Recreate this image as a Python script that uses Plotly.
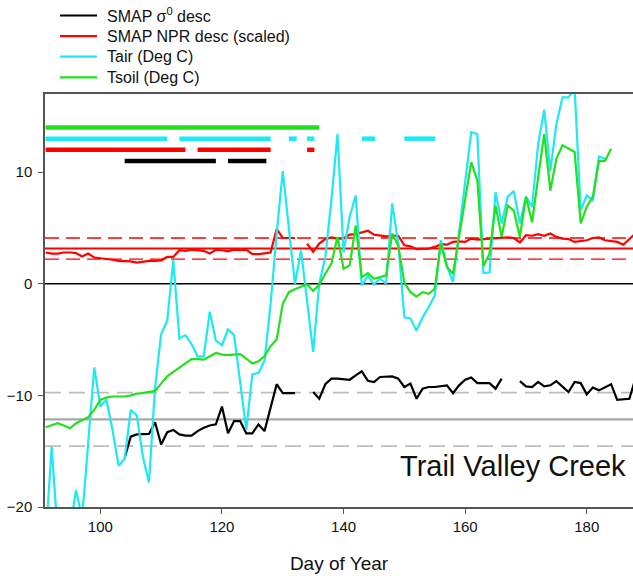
import plotly.graph_objects as go

# Day of year axis (daily samples)
DAYS = list(range(91, 189))

# SMAP sigma0 (descending passes)
SIGMA0_DESC = [
    None, None, None, None, None, None, None, None, None, None,
    None, None, None, -15.6, -13.7, -13.5, -13.5, -13.45, -12.4, -14.4,
    -13.3, -13.1, -13.5, -13.6, -13.6, -13.2, -12.9, -12.7, -12.6, -11.0,
    -13.4, -12.3, -12.3, -13.4, -13.4, -12.6, -13.2, -11.2, -9.0, -9.8,
    -9.8, -9.8, None, None, -9.7, -10.3, -9.0, -8.5, -8.5, -8.55,
    -8.6, -8.2, -7.85, -8.7, -8.8, -8.35, -8.33, -8.3, -8.5, -9.25,
    -8.95, -10.3, -9.4, -9.25, -9.25, -9.15, -9.1, -9.8, -9.1, -8.6,
    -8.4, -8.9, -8.9, -8.9, -9.4, -8.5, None, None, -8.72, -9.2,
    -9.25, -8.8, -9.2, -9.1, -8.72, -9.2, -9.7, -8.8, -8.9, -9.9,
    -9.3, -9.55, -9.3, -9.0, -10.4, -10.35, -10.3, -8.5,
]

# SMAP NPR (descending, scaled)
NPR_DESC = [
    2.8, 2.7, 2.7, 2.8, 2.8, 2.75, 2.45, 2.7, 2.35, 2.3,
    2.25, 2.15, 2.05, 2.05, 2.0, 1.9, 2.0, 2.05, 2.05, 2.1,
    2.4, 2.4, 3.0, 2.95, 3.05, 3.0, 2.95, 2.7, 3.05, 3.0,
    2.9, 3.05, 3.0, 3.05, 2.65, 2.65, 2.7, 2.8, 4.9, 4.1,
    4.1, 4.1, None, 3.6, 2.85, 3.6, 4.0, 4.15, 4.05, 4.05,
    4.4, 4.45, 4.6, 4.75, 4.4, 4.3, 4.25, 4.3, 4.3, 3.45,
    3.35, 3.1, 3.1, 3.15, 3.3, 3.55, 3.5, 3.75, 3.8, 3.75,
    4.05, 3.95, 4.0, 4.05, 4.1, 4.15, 4.15, 4.1, 3.7, 4.35,
    4.3, 4.45, 4.3, 4.5, 4.2, 4.05, 4.0, 3.75, 3.85, 3.9,
    4.1, 4.15, 3.9, 3.8, 3.75, 3.5, 4.0, 4.5,
]

# Air temperature (deg C)
TAIR = [
    -23.0, -14.6, -22.5, -24.0, -22.0, -18.5, -21.0, -14.0, -7.5, -11.0,
    -10.4, -13.1, -16.3, -15.7, -11.3, -11.8, -15.5, -17.8, -9.3, -4.5,
    -3.3, 2.1, -4.9, -4.6, -5.4, -6.5, -6.5, -2.5, -5.1, -5.5,
    -4.1, -4.6, -8.7, -13.1, -8.1, -8.0, -6.9, -1.8, 4.5, 10.1,
    5.0, 0.0, 3.0, -1.5, -6.1, 0.0, 2.4, 7.5, 13.4, 2.8,
    6.0, 7.9, -0.15, 0.7, -0.05, 0.45, 0.0, 7.2, 3.6, -3.0,
    -3.1, -4.2, -3.0, -2.1, -1.05, 3.9, 1.6, 0.15, 4.6, 9.1,
    13.6, 13.4, 0.95, 1.0, 8.2, 5.4, 7.8, 8.3, 5.4, 7.8,
    6.9, 12.5, 15.6, 10.1, 14.3, 16.7, 16.7, 17.5, 6.6, 7.9,
    7.5, 11.4, 11.2, None, None, None, None, None,
]

# Soil temperature (deg C)
TSOIL = [
    -12.85, -12.65, -12.5, -12.7, -12.95, -12.5, -12.2, -11.95, -11.3, -10.4,
    -10.2, -10.1, -10.1, -10.1, -10.0, -9.85, -9.8, -9.7, -9.6, -8.95,
    -8.3, -7.9, -7.5, -7.1, -6.75, -6.75, -6.8, -6.5, -6.2, -6.35,
    -6.4, -6.35, -6.3, -6.7, -7.15, -6.95, -6.5, -5.6, -5.0, -1.8,
    -0.75, -0.5, -0.3, -0.05, -0.65, -0.1, 0.9, 1.8, 4.2, 1.35,
    1.65, 5.2, 0.6, 0.95, 0.45, 0.6, 0.75, 4.5, 3.4, 0.1,
    -0.75, -1.15, -0.75, -0.9, -0.45, 3.6, 1.5, 0.9, 4.3, 7.5,
    10.9, 9.25, 1.6, 2.7, 7.0, 4.2, 7.0, 6.55, 4.2, 7.8,
    5.5, 9.5, 13.4, 8.35, 11.2, 12.4, 12.1, 11.8, 5.4, 6.9,
    7.8, 11.0, 11.0, 12.1, None, None, None, None,
]

# Frozen-state periods (start day, end day) for each indicator
FROZEN_TSOIL = [(91, 136)]
FROZEN_TAIR = [(91, 111), (113, 128), (131, 132.3), (134, 135.2), (143, 145.2), (150, 155.1)]
FROZEN_NPR = [(91, 114), (116, 128), (134, 135.2)]
FROZEN_SIGMA0 = [(104, 119), (121, 127.3)]
FLAG_ROWS = {"tsoil": 14, "tair": 13, "npr": 12, "sigma0": 11}

# Frozen reference levels (mean and spread)
NPR_REF, NPR_SPREAD = 3.15, 0.95
SIGMA0_REF, SIGMA0_SPREAD = -12.15, 2.4

X_TICKS = [100, 120, 140, 160, 180]
Y_TICKS = [-20, -10, 0, 10]
X_RANGE = [90.9, 187.6]
Y_RANGE = [-20, 17]

SITE = "Trail Valley Creek"

BLACK = "#000000"
RED = "#ff0000"
CYAN = "#1ee8f2"
GREEN = "#22e01e"
FONT = "Liberation Sans, Arial, sans-serif"

LEGEND_ITEMS = [
    ("SMAP σ<sup>0</sup> desc", BLACK),
    ("SMAP NPR desc (scaled)", RED),
    ("Tair (Deg C)", CYAN),
    ("Tsoil (Deg C)", GREEN),
]

# figure geometry (pixels)
W, H = 633, 579
M_L, M_R, M_T, M_B = 45, 0, 94, 72
PLOT_W = W - M_L - M_R
PLOT_H = H - M_T - M_B


def px_to_paper_x(px):
    return (px - M_L) / PLOT_W


def px_to_paper_y(py):
    return (H - M_B - py) / PLOT_H


def periods_to_xy(periods, level):
    xs, ys = [], []
    for start, end in periods:
        xs += [start, end, None]
        ys += [level, level, None]
    return xs, ys


fig = go.Figure()

# state bars above the series
for periods, key, color in [
    (FROZEN_TSOIL, "tsoil", GREEN),
    (FROZEN_TAIR, "tair", CYAN),
    (FROZEN_NPR, "npr", RED),
    (FROZEN_SIGMA0, "sigma0", BLACK),
]:
    xs, ys = periods_to_xy(periods, FLAG_ROWS[key])
    fig.add_trace(go.Scatter(x=xs, y=ys, mode="lines", showlegend=False,
                             line=dict(color=color, width=4.5), hoverinfo="skip"))

# time series
for series, color in [(NPR_DESC, RED), (SIGMA0_DESC, BLACK), (TAIR, CYAN), (TSOIL, GREEN)]:
    fig.add_trace(go.Scatter(x=DAYS, y=series, mode="lines", showlegend=False,
                             line=dict(color=color, width=2.2)))

# reference levels and zero line
shapes = []
for level, color, width, dash in [
    (NPR_REF, RED, 2, "solid"),
    (NPR_REF + NPR_SPREAD, RED, 1.3, "14px,7px"),
    (NPR_REF - NPR_SPREAD, RED, 1.3, "14px,7px"),
    (SIGMA0_REF, "#a8a8a8", 2.2, "solid"),
    (SIGMA0_REF + SIGMA0_SPREAD, "#bdbdbd", 1.6, "16px,8px"),
    (SIGMA0_REF - SIGMA0_SPREAD, "#bdbdbd", 1.6, "16px,8px"),
    (0, BLACK, 1.5, "solid"),
]:
    shapes.append(dict(type="line", xref="paper", x0=0, x1=1, yref="y", y0=level, y1=level,
                       line=dict(color=color, width=width, dash=dash), layer="below"))

# legend block above the plot area
annotations = []
row_y0, row_step = 15.5, 20.6
for i, (label, color) in enumerate(LEGEND_ITEMS):
    yp = px_to_paper_y(row_y0 + i * row_step)
    shapes.append(dict(type="line", xref="paper", yref="paper",
                       x0=px_to_paper_x(60), x1=px_to_paper_x(97), y0=yp, y1=yp,
                       line=dict(color=color, width=2.2)))
    annotations.append(dict(text=label, xref="paper", yref="paper",
                            x=px_to_paper_x(105), y=yp, xanchor="left", yanchor="middle",
                            showarrow=False, font=dict(size=16, family=FONT, color="#111111")))

annotations.append(dict(text=SITE, xref="paper", x=0.992, xanchor="right",
                        yref="y", y=-16.3, yanchor="middle", showarrow=False,
                        font=dict(size=29, family=FONT, color="#111111")))

fig.update_layout(
    width=W, height=H,
    margin=dict(l=M_L, r=M_R, t=M_T, b=M_B),
    paper_bgcolor="white", plot_bgcolor="white",
    font=dict(family=FONT, size=15, color="#111111"),
    shapes=shapes,
    annotations=annotations,
    showlegend=False,
    xaxis=dict(range=X_RANGE, tickvals=X_TICKS, ticks="outside", ticklen=5, tickwidth=1.3,
               tickcolor="#555555", showline=True, linecolor="#555555", linewidth=1.5,
               mirror=True, showgrid=False, zeroline=False,
               title=dict(text="Day of Year", font=dict(size=19), standoff=23)),
    yaxis=dict(range=Y_RANGE, tickvals=Y_TICKS, ticks="outside", ticklen=5, tickwidth=1.3,
               tickcolor="#555555", showline=True, linecolor="#555555", linewidth=1.5,
               showgrid=False, zeroline=False, ticklabelstandoff=3),
)

fig.write_html("out.html")
